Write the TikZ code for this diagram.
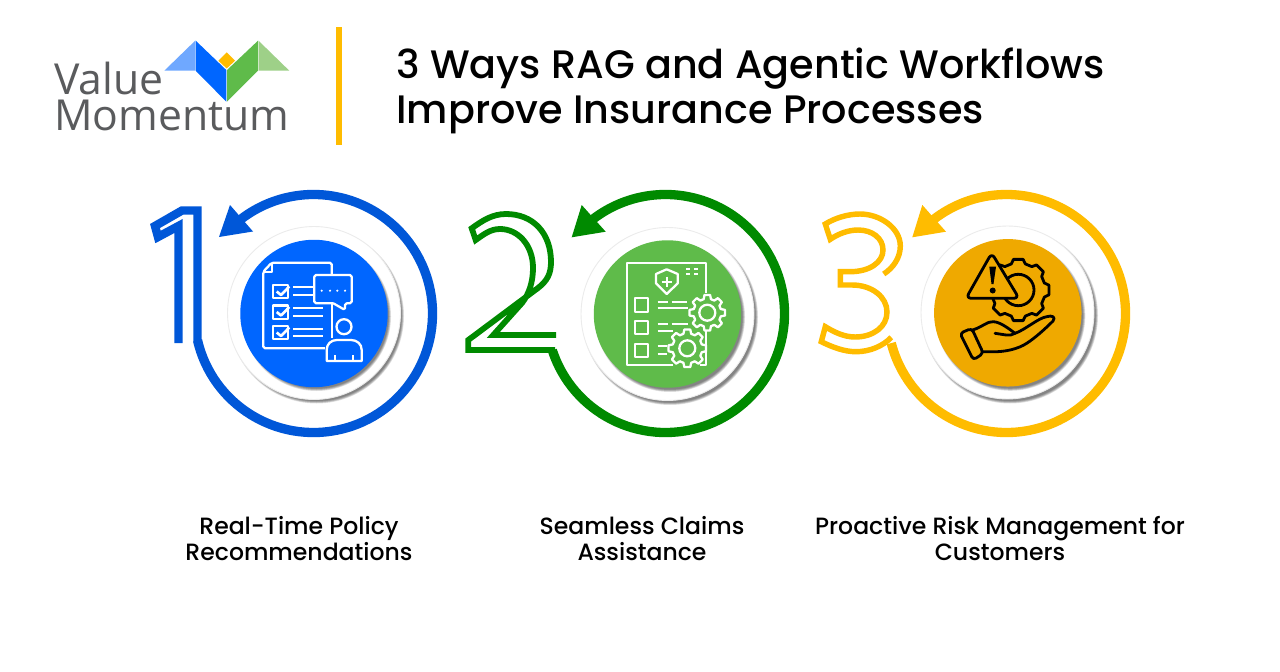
\documentclass[tikz,border=0pt]{standalone}
\usepackage{fontspec}
\setmainfont{Poppins}
\newfontfamily\titlefont{Poppins Medium}
\newfontfamily\logofont{Open Sans}
\usetikzlibrary{arrows.meta,positioning,calc}
\definecolor{ringblue}{HTML}{0057D8}
\definecolor{diskblue}{HTML}{0066FF}
\definecolor{ringgreen}{HTML}{008A00}
\definecolor{diskgreen}{HTML}{5FBB4A}
\definecolor{ringgold}{HTML}{FFBC00}
\definecolor{diskgold}{HTML}{EFA900}
\definecolor{logoblue}{HTML}{6FA8FF}
\definecolor{logogreen}{HTML}{9ED088}
\definecolor{logogray}{HTML}{5A5B5D}
\newcommand{\softshadow}[3]{%
    \foreach \grow in {0,1,...,5}
        \fill[black, fill opacity=.1] (#1+2.5,#2+3) circle[radius=#3+1.5-\grow/2];
}
\newcommand{\toothgear}[4]{%
    \draw[#1] (#2) ++(-14:#3-4) foreach \a in {0,45,...,315} {
        -- ($(#2)+(\a-15:#3-4)$) -- ($(#2)+(\a-9:#3)$) -- ($(#2)+(\a+9:#3)$) -- ($(#2)+(\a+15:#3-4)$)
    } -- cycle;
    \draw[#1] (#2) circle[radius=#4];
}
\begin{document}
\begin{tikzpicture}[
        x=0.02cm, y=-0.02cm,
        ring/.style={line width=5.3pt},
        digitone/.style={draw=ringblue, line width=4.8pt, miter limit=4},
        digittwo/.style={draw=ringgreen, line width=3.3pt},
        digitthree/.style={draw=ringgold, line width=3.1pt},
        outerdisk/.style={circle, fill=white, draw=black!8, line width=.5pt, minimum size=3.46cm, inner sep=0pt},
        innerdisk/.style={circle, minimum size=2.95cm, inner sep=0pt},
        caption/.style={font=\titlefont\fontsize{13.4}{14.8}\selectfont, align=center, inner sep=0pt},
        iconwhite/.style={draw=white, line width=1.3pt, line join=round},
        iconblack/.style={draw=black, line width=1.6pt, line join=round, line cap=round}
        ]
        \useasboundingbox (0,0) rectangle (1280,672);
        \fill[white] (0,0) rectangle (1280,672);

        \fill[logoblue] (164.3,70.7) -- (195.2,40.7) -- (195.2,70.7) -- cycle;
        \fill[diskblue] (195.7,40.7) -- (226.3,70) -- (226.3,101.7) -- (195.7,70.7) -- cycle;
        \fill[diskgreen] (227,70) -- (258,40.7) -- (258,70.7) -- (227,101.7) -- cycle;
        \fill[logogreen] (258.5,40.7) -- (289.3,70.7) -- (258.5,70.7) -- cycle;
        \fill[ringgold] (226.7,52.3) -- (235,60.7) -- (226.7,68.5) -- (218.3,60.7) -- cycle;
        \node[anchor=west, inner sep=0pt, align=left, text=logogray, font=\logofont\fontsize{24.3}{20.5}\selectfont] (logotext) at (54,96) {Value\\Momentum};
        \fill[ringgold] (336,27) rectangle (342,145);
        \node[anchor=west, inner sep=0pt, align=left, font=\titlefont\fontsize{22.6}{25.6}\selectfont] (title) at (396,90.5) {3 Ways RAG and Agentic Workflows\\Improve Insurance Processes};

        \softshadow{314}{313}{86}
        \node[outerdisk] (outerone) at (314,313) {};
        \softshadow{314}{313.5}{73}
        \node[innerdisk, fill=diskblue] (innerone) at (314,313.5) {};
        \softshadow{667.5}{314}{86.5}
        \node[outerdisk] (outertwo) at (667.5,314) {};
        \softshadow{667.5}{314}{73.5}
        \node[innerdisk, fill=diskgreen] (innertwo) at (667.5,314) {};
        \softshadow{1007.5}{312.5}{86.5}
        \node[outerdisk] (outerthree) at (1007.5,312.5) {};
        \softshadow{1007.8}{312.8}{73.5}
        \node[innerdisk, fill=diskgold] (innerthree) at (1007.8,312.8) {};

        \draw[ring, ringblue] (313.5,313.5) ++(167:119) arc[start angle=167, end angle=-129, radius=119];
        \fill[ringblue] (219,237) -- (230,205) -- (253,231.5) -- cycle;
        \draw[digitone] (178.5,343) -- (178.5,226) -- (158,237) -- (155,226) -- (182,210.5) -- (197.5,210.5) -- (197.5,341);

        \draw[ring, ringgreen] (665.5,313.5) ++(162:119) arc[start angle=162, end angle=-129, radius=119];
        \fill[ringgreen] (571.7,237.3) -- (581.7,205) -- (605.7,231.7) -- cycle;
        \draw[digittwo] (556,335) -- (493.3,335) -- (522,303) .. controls (529,294) and (533,282) .. (533,268)
            .. controls (533,245) and (518,229) .. (500,229) .. controls (490,229) and (483,235) .. (475.7,240)
            -- (471.7,228.3) .. controls (482,221) and (492,214) .. (506,214) .. controls (533,214) and (551,233) .. (551,262)
            .. controls (551,274) and (547,281) .. (538,288) -- (468.3,340) -- (468.3,350) -- (555,350);

        \draw[ring, ringgold] (1006.5,313.5) ++(165.6:119) arc[start angle=165.6, end angle=-129, radius=119];
        \fill[ringgold] (912.3,237.3) -- (922.3,205) -- (946,231.7) -- cycle;
        \draw[digitthree] (883.7,274) .. controls (893,268) and (900.3,258) .. (900.3,246) .. controls (900.3,228) and (880,214) .. (860,214)
            .. controls (848,214) and (835,218) .. (825.3,224) -- (830.3,239.3) .. controls (838,234) and (848,230) .. (858,230)
            .. controls (872,230) and (883,238) .. (883,250) .. controls (883,262) and (870,271.7) .. (850,271.7)
            -- (840.3,271.7) -- (840.3,285) -- (852,285) .. controls (872,285) and (887,297) .. (887,312)
            .. controls (887,327) and (873,337) .. (855,337) .. controls (844,337) and (834,332) .. (825.3,326.7)
            -- (821.3,341.7) .. controls (832,347) and (844,351.7) .. (856,351.7) .. controls (870,351.7) and (883,346) .. (891.3,337.3);

        \draw[iconwhite, rounded corners=1pt] (325,348.3) -- (263.3,348.3) -- (263.3,271.7) -- (271.7,262.7) -- (331.7,262.7) -- (331.7,275);
        \draw[iconwhite] (263.3,271.7) -- (271.7,271.7) -- (271.7,262.7);
        \draw[iconwhite] (331.7,303.3) -- (331.7,338);
        \draw[iconwhite, rounded corners=1pt] (333.3,303.3) -- (314.3,303.3) -- (314.3,275) -- (351.7,275) -- (351.7,303.3) -- (345,303.3) -- (345,310) -- (333.3,303.3);
        \foreach \x in {321.7,330,337.3,345}
            \fill[white] (\x,290.7) circle[radius=1.2];
        \foreach \y in {0,20.5,41} {
            \draw[iconwhite] (273.3,285+\y) rectangle (288.3,298.3+\y);
            \draw[iconwhite, line width=1.5pt] (276.7,291.5+\y) -- (281,295+\y) -- (289.3,286.5+\y);
        }
        \draw[iconwhite] (293.3,287.3) -- (314.3,287.3) (293.3,295) -- (314.3,295);
        \draw[iconwhite] (293.3,308.3) -- (322.7,308.3) (293.3,316) -- (322.7,316);
        \draw[iconwhite] (293.3,329) -- (322.7,329) (293.3,336) -- (322.7,336);
        \draw[iconwhite] (344,326.7) circle[radius=7.5];
        \draw[iconwhite] (326.7,361) -- (326.7,350) .. controls (326.7,344) and (331,340) .. (337,340) -- (351,340) .. controls (357,340) and (361.7,344) .. (361.7,350) -- (361.7,361) -- cycle;
        \draw[iconwhite] (335,355) -- (335,361) (353.3,355) -- (353.3,361);

        \draw[iconwhite] (673.3,365) -- (626.7,365) -- (626.7,262.7) -- (706,262.7) -- (706,293.3);
        \draw[iconwhite] (706,330) -- (706,365) -- (700,365);
        \draw[iconwhite] (656,274) -- (666.7,269.3) -- (677.7,274) -- (677.7,283.3) -- (666.7,294) -- (656,283.3) -- cycle;
        \draw[iconwhite] (666.7,276.7) -- (666.7,287.3) (661.7,281.7) -- (671.7,281.7);
        \draw[iconwhite] (686,269.3) -- (690,269.3) (694,269.3) -- (698.3,269.3) (686,274.3) -- (690,274.3) (694,274.3) -- (698.3,274.3);
        \draw[iconwhite] (635,298.3) rectangle (648.3,311.7);
        \draw[iconwhite] (635,321) rectangle (648.3,334.3);
        \draw[iconwhite] (635,344.3) rectangle (648.3,356.7);
        \draw[iconwhite] (657.7,301.7) -- (668.3,301.7) (671.7,301.7) -- (687.3,301.7) (657.7,308.3) -- (688.3,308.3);
        \draw[iconwhite] (657.7,324) -- (668.3,324) (671.7,324) -- (688,324) (657.7,330.7) -- (673,330.7);
        \draw[iconwhite] (657.7,345.7) -- (666.7,345.7) (657.7,354) -- (666.7,354);
        \coordinate (gearone) at (707.3,312.7);
        \coordinate (geartwo) at (687.3,348.3);
        \toothgear{iconwhite, fill=diskgreen}{gearone}{18}{8}
        \toothgear{iconwhite, fill=diskgreen}{geartwo}{19}{8}

        \coordinate (gearthree) at (1018.3,290);
        \toothgear{iconblack}{gearthree}{31}{15.7}
        \draw[iconblack, fill=diskgold, rounded corners=3pt] (991.7,253) -- (966,298.3) -- (1019,298.3) -- cycle;
        \fill[black] (989.3,266.7) -- (996,266.7) -- (993.5,284) -- (991.5,284) -- cycle;
        \fill[black] (992.7,290.5) circle[radius=3];
        \draw[iconblack, rounded corners=2pt] (960,333.3) -- (971.7,328.3) -- (983.3,353.3) -- (973.3,360) -- cycle;
        \draw[iconblack] (972.7,330) .. controls (982,327) and (988,321) .. (993.3,321.7) .. controls (1000,322) and (1008,328) .. (1015,333.3) .. controls (1010,337) and (1002,334) .. (995,333.3);
        \draw[iconblack] (1015,333.3) .. controls (1025,330) and (1038,318) .. (1046.7,316.7) .. controls (1052,315) and (1056,317) .. (1053,321) .. controls (1045,329) and (1035,338) .. (1026.7,343.3) .. controls (1018,349) and (1005,352) .. (993.3,351.7) -- (983.3,351.7);

        \node[caption] (labelone) at (299,539) {Real-Time Policy\\Recommendations};
        \node[caption] (labeltwo) at (642,539) {Seamless Claims\\Assistance};
        \node[caption] (labelthree) at (1000,539) {Proactive Risk Management for\\Customers};
    \end{tikzpicture}
\end{document}
